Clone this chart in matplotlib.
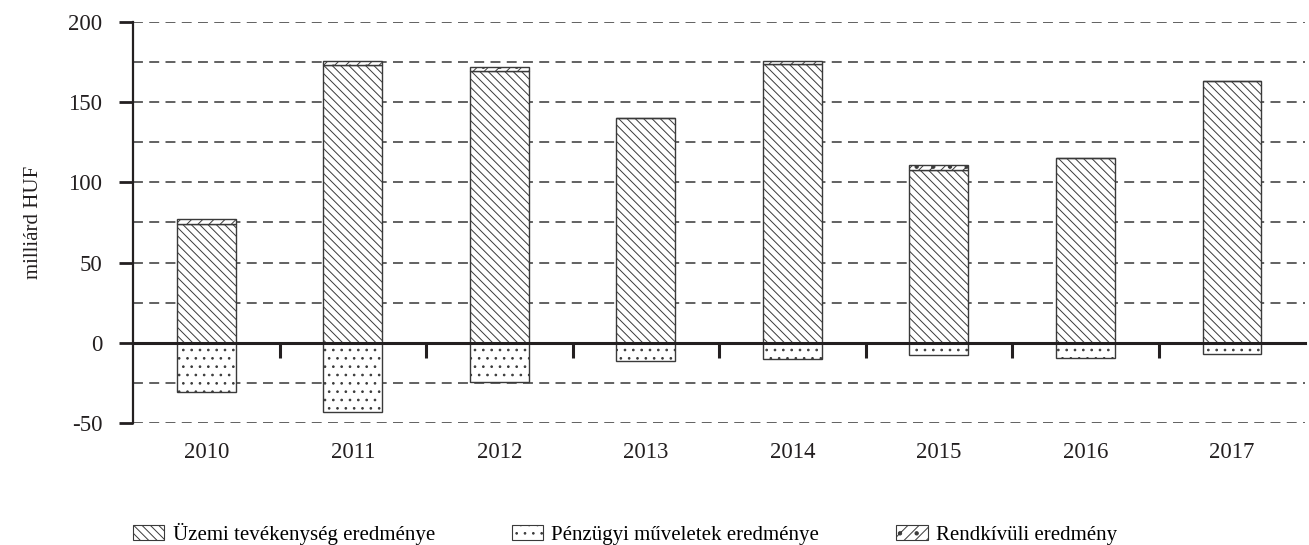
"""Üzemi / pénzügyi / rendkívüli eredmény 2010-2017 — stacked hatched bars."""

import matplotlib
matplotlib.use("Agg")
import matplotlib.pyplot as plt
from matplotlib.patches import Patch
from matplotlib.ticker import MultipleLocator

plt.rcParams["font.family"] = ["Liberation Serif", "DejaVu Serif"]
plt.rcParams["hatch.linewidth"] = 0.7
plt.rcParams["axes.unicode_minus"] = False

DARK = "#231f20"
EDGE = "#3a3a3a"
GRID = "#555555"

# --- Values (milliárd HUF) ---
years = ["2010", "2011", "2012", "2013", "2014", "2015", "2016", "2017"]
uzemi = [74, 173.5, 169.5, 140, 174, 107.5, 115, 163]
penzugyi = [-30.5, -43, -24.5, -11.5, -10, -7.5, -9.5, -7]
rendkivuli = [3, 2.5, 2.5, 0, 1.5, 3.5, 0, 0]

labels = ["Üzemi tevékenység eredménye",
          "Pénzügyi műveletek eredménye",
          "Rendkívüli eredmény"]
hatches = ["\\\\\\\\", "..", "///."]

fig = plt.figure(figsize=(13.09, 5.45), dpi=100)
ax = fig.add_axes([0.1016, 0.2239, 0.8954, 0.7357])

x = range(len(years))
w = 0.40
ax.bar(x, uzemi, w, color="white", edgecolor=EDGE, hatch=hatches[0], lw=1.0, zorder=3)
ax.bar(x, penzugyi, w, color="white", edgecolor=EDGE, hatch=hatches[1], lw=1.0, zorder=3)
ax.bar(x, rendkivuli, w, bottom=uzemi, color="white", edgecolor=EDGE,
       hatch=hatches[2], lw=1.0, zorder=3)

ax.set_xlim(-0.5, len(years) - 0.5)
ax.set_ylim(-50, 200)

# dashed grid every 25
ax.yaxis.set_major_locator(MultipleLocator(50))
ax.yaxis.set_minor_locator(MultipleLocator(25))
ax.grid(axis="y", which="both", color=GRID, lw=1.3, ls=(0, (5.5, 3.5)), zorder=0)
ax.set_axisbelow(True)

for s in ["top", "right"]:
    ax.spines[s].set_visible(False)
ax.spines["left"].set_color(DARK)
ax.spines["left"].set_linewidth(1.6)

# bottom spine sits at zero, ticks at category boundaries
ax.spines["bottom"].set_position(("data", 0))
ax.spines["bottom"].set_color(DARK)
ax.spines["bottom"].set_linewidth(2.2)
ax.spines["bottom"].set_zorder(4)
ax.set_xticks([i + 0.5 for i in range(len(years) - 1)])
ax.set_xticklabels([])
ax.tick_params(axis="x", direction="out", length=11, width=2.2, color=DARK)

ax.tick_params(axis="y", which="major", direction="out", length=10, width=2,
               color=DARK, labelsize=16.5, labelcolor=DARK, pad=12)
ax.tick_params(axis="y", which="minor", length=0)

# year labels along the bottom of the plot
sec = ax.secondary_xaxis(0)
sec.set_xticks(list(x))
sec.set_xticklabels(years)
sec.spines["bottom"].set_visible(False)
sec.tick_params(length=0, labelsize=16.5, labelcolor=DARK, pad=14)

ax.set_ylabel("milliárd HUF", fontsize=15, color=DARK, labelpad=18)

handles = [Patch(facecolor="white", edgecolor=EDGE, hatch=h, lw=0.8) for h in hatches]
fig.legend(handles, labels, loc="lower center", bbox_to_anchor=(0.4775, -0.034),
           ncol=3, frameon=False, fontsize=15, handlelength=1.5, handleheight=0.75,
           handletextpad=0.4, columnspacing=3.7)

fig.savefig("out.png", dpi=100, facecolor="white")
plt.close(fig)
